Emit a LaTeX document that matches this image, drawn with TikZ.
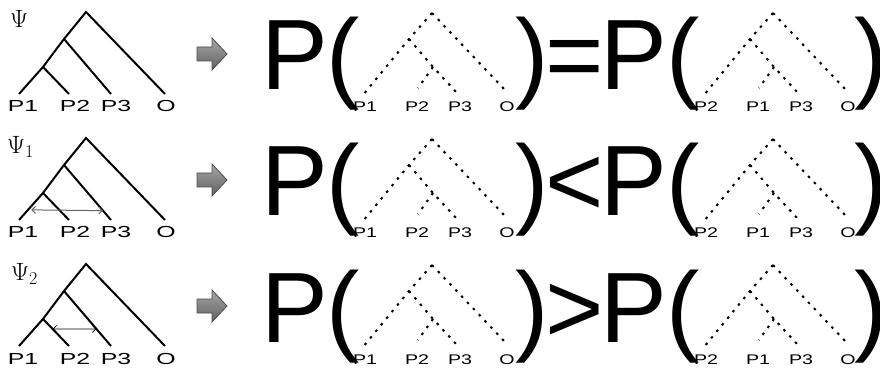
\documentclass[tikz,border=0pt]{standalone}
\usepackage{fontspec}
\setmainfont{Liberation Sans}
\newfontfamily\lmr{Latin Modern Roman}
\usetikzlibrary{calc,arrows.meta}

\tikzset{
	trait/.style={line width=2pt},
	pointille/.style={line width=2pt, dash pattern=on 2.5pt off 6pt},
	grand/.style={font=\fontsize{100}{100}\selectfont, inner sep=0pt, anchor=base},
	feuille/.style={font=\fontsize{16}{16}\selectfont, inner sep=0pt, anchor=base, xscale=1.55},
	petite/.style={font=\fontsize{14}{14}\selectfont, inner sep=0pt, anchor=base, xscale=1.4},
	psi/.style={font=\lmr\fontsize{25}{25}\selectfont, inner sep=0pt, anchor=base west},
	bloc/.style={draw=black!70, line width=0.8pt, top color=black!35, bottom color=black!62},
	echange/.style={{Straight Barb[length=3.5pt,width=7pt]}-{Straight Barb[length=3.5pt,width=7pt]}, line width=1pt}
}
\newcommand{\indice}[1]{\raisebox{-4pt}{\fontsize{18}{18}\selectfont #1}}

% solid tree : #1 vertical shift, #2 prefix
\newcommand{\arbre}[2]{\begin{scope}[shift={(0,#1)}]
	\coordinate (#2r) at (86,12);
	\coordinate (#2b) at (64,39);
	\coordinate (#2a) at (43,67);
	\coordinate (#2l1) at (19,94);
	\coordinate (#2l2) at (69,94);
	\coordinate (#2l3) at (111,94);
	\coordinate (#2lo) at (165,94);
	\draw[trait] (#2l1) -- (#2a) -- (#2b) -- (#2r) -- (#2lo);
	\draw[trait] (#2b) -- (#2l3);
	\draw[trait] (#2a) -- (#2l2);
	\node[feuille] (#2n1) at (23,112) {P1};
	\node[feuille] (#2n2) at (75,112) {P2};
	\node[feuille] (#2n3) at (116,112) {P3};
	\node[feuille] (#2no) at (166,112) {O};
	\end{scope}}

% dotted tree : #1 shift, #2 prefix, #3 #4 #5 leaves
\newcommand{\pointilles}[5]{\begin{scope}[shift={#1}]
	\coordinate (#2r) at (432,13);
	\coordinate (#2a) at (409,39);
	\coordinate (#2b) at (433,67);
	\coordinate (#2l1) at (363,95);
	\coordinate (#2l2) at (418,88);
	\coordinate (#2l3) at (457,93);
	\coordinate (#2lo) at (505,90);
	\draw[pointille] (#2r) -- (#2a) -- (#2l1);
	\draw[pointille] (#2r) -- (#2lo);
	\draw[pointille] (#2a) -- (#2b) -- (#2l3);
	\draw[pointille] (#2b) -- (#2l2);
	\node[petite] (#2n1) at (365,112) {#3};
	\node[petite] (#2n2) at (417,112) {#4};
	\node[petite] (#2n3) at (460,112) {#5};
	\node[petite] (#2no) at (507,112) {O};
	\end{scope}}

% big formula : #1 vertical shift, #2 prefix
\newcommand{\formule}[2]{\begin{scope}[shift={(0,#1)}]
	\node[grand] (#2p) at (294.5,90) {P};
	\node[grand] (#2o) at (343,90) {(};
	\node[grand] (#2f) at (532,90) {)};
	\node[grand] (#2q) at (634,90) {P};
	\node[grand] (#2oo) at (683,90) {(};
	\node[grand] (#2ff) at (871,90) {)};
	\end{scope}
	\pointilles{(0,#1)}{#2x}{P1}{P2}{P3}
	\pointilles{(341,#1)}{#2y}{P2}{P1}{P3}}

\newcommand{\fleche}[1]{\draw[bloc] (197,47+#1) -- (212,47+#1) -- (212,38+#1) -- (227,54+#1)
	-- (212,70+#1) -- (212,61+#1) -- (197,61+#1) -- cycle}

\begin{document}
\begin{tikzpicture}[x=1pt,y=-1pt]
\useasboundingbox (0,0) rectangle (880,371);
%First line
	\arbre{0}{u}
	\node[psi] (psiu) at (10,28) {Ψ};
	\fleche{0};
	\formule{0}{u}
	\node[grand] (equ) at (575,90) {=};
%Second line
	\arbre{126}{v}
	\node[psi] (psiv) at (7,154) {Ψ\indice{1}};
	\draw[echange, black!60, shorten <=4pt] ($(vr)!0.876!(vl1)$) -- ($(vb)!0.83!(vl3)$);
	\fleche{126};
	\formule{126}{v}
	\node[grand] (infv) at (575,216) {<};
%Third line
	\arbre{252}{w}
	\node[psi] (psiw) at (11,280) {Ψ\indice{2}};
	\draw[echange, line width=0.8pt] ($(wa)!0.37!(wl2)$) -- ($(wb)!0.69!(wl3)$);
	\fleche{252};
	\formule{252}{w}
	\node[grand] (supw) at (575,342) {>};
\end{tikzpicture}
\end{document}
